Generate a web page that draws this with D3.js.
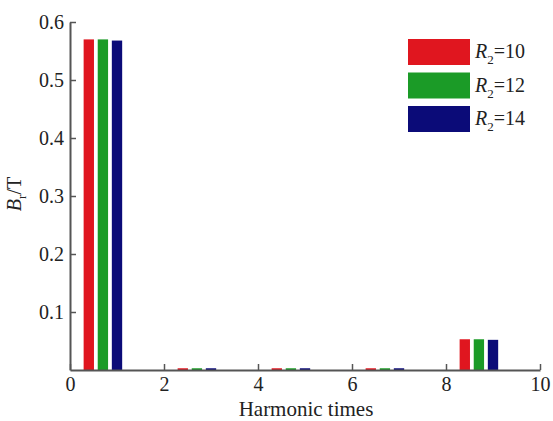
<!DOCTYPE html>
<html>
<head>
<meta charset="utf-8">
<title>Harmonic chart</title>
<style>
  body { margin: 0; background: #fff; }
  text { font-family: "Liberation Serif", "Times New Roman", serif; fill: #222; }
  .axis path, .axis line { stroke: #555; }
</style>
</head>
<body>
<svg width="553" height="421"></svg>
<script src="https://d3js.org/d3.v7.min.js"></script>
<script>
// harmonic orders and amplitude (T) for each R2
var harmonics = [1, 3, 5, 7, 9];
var seriesNames = ["10", "12", "14"];
var r2_10 = [0.570, 0.003, 0.003, 0.003, 0.053];
var r2_12 = [0.570, 0.003, 0.003, 0.003, 0.053];
var r2_14 = [0.568, 0.003, 0.003, 0.003, 0.052];
var xTicks = [0, 2, 4, 6, 8, 10];
var yTicks = [0.1, 0.2, 0.3, 0.4, 0.5, 0.6];

var series = [r2_10, r2_12, r2_14];
var colors = ["#e0161f", "#1b9b27", "#0b0b78"];

var svg = d3.select("svg"),
    mLeft = 70, mRight = 540, mTop = 22, mBottom = 370;

var x = d3.scaleLinear().domain([0, 10]).range([mLeft, mRight]);
var y = d3.scaleLinear().domain([0, 0.6]).range([mBottom, mTop]);

// bars: offsets within each harmonic group
var offset = d3.scaleOrdinal().domain([0, 1, 2]).range([-0.6, -0.3, 0]);
var barW = 0.22;

series.forEach(function(vals, si) {
  svg.append("g").selectAll("rect")
    .data(vals)
    .enter().append("rect")
    .attr("x", function(d, i) { return x(harmonics[i] + offset(si) - barW / 2); })
    .attr("width", x(barW) - x(0))
    .attr("y", function(d) { return y(d); })
    .attr("height", function(d) { return y(0) - y(d); })
    .attr("fill", colors[si]);
});

// axes
var xAxis = svg.append("g").attr("class", "axis")
  .attr("transform", "translate(0," + mBottom + ")")
  .call(d3.axisBottom(x).tickValues(xTicks).tickSizeInner(-6).tickSizeOuter(0));
var yAxis = svg.append("g").attr("class", "axis")
  .attr("transform", "translate(" + mLeft + ",0)")
  .call(d3.axisLeft(y).tickValues(yTicks).tickFormat(d3.format(".1f"))
        .tickSizeInner(-6).tickSizeOuter(0));

svg.selectAll(".axis path").attr("stroke-width", 2);
svg.selectAll(".axis line").attr("stroke-width", 1.5);
svg.selectAll(".axis text").style("font-size", "20px")
  .style("font-family", "Liberation Serif, serif").attr("fill", "#222");
yAxis.selectAll("text").attr("x", -6);
xAxis.selectAll("text").attr("y", 7);

// axis titles
svg.append("text")
  .attr("x", 306).attr("y", 416)
  .attr("text-anchor", "middle")
  .style("font-size", "21px")
  .text("Harmonic times");

var yl = svg.append("text")
  .attr("transform", "translate(21,194) rotate(-90)")
  .attr("text-anchor", "middle")
  .style("font-size", "20px");
yl.append("tspan").style("font-style", "italic").text("B");
yl.append("tspan").attr("dy", 5).style("font-size", "13px").text("r");
yl.append("tspan").attr("dy", -5).text("/T");

// legend
var legend = svg.append("g").selectAll("g")
  .data(seriesNames)
  .enter().append("g")
  .attr("transform", function(d, i) { return "translate(408," + (39 + i * 33.5) + ")"; });

legend.append("rect")
  .attr("width", 62).attr("height", 26)
  .attr("fill", function(d, i) { return colors[i]; });

var lt = legend.append("text")
  .attr("x", 67).attr("y", 19)
  .style("font-size", "20px");
lt.append("tspan").style("font-style", "italic").text("R");
lt.append("tspan").attr("dy", 6).style("font-size", "13px").text("2");
lt.append("tspan").attr("dy", -6).text(function(d) { return "=" + d; });
</script>
</body>
</html>
